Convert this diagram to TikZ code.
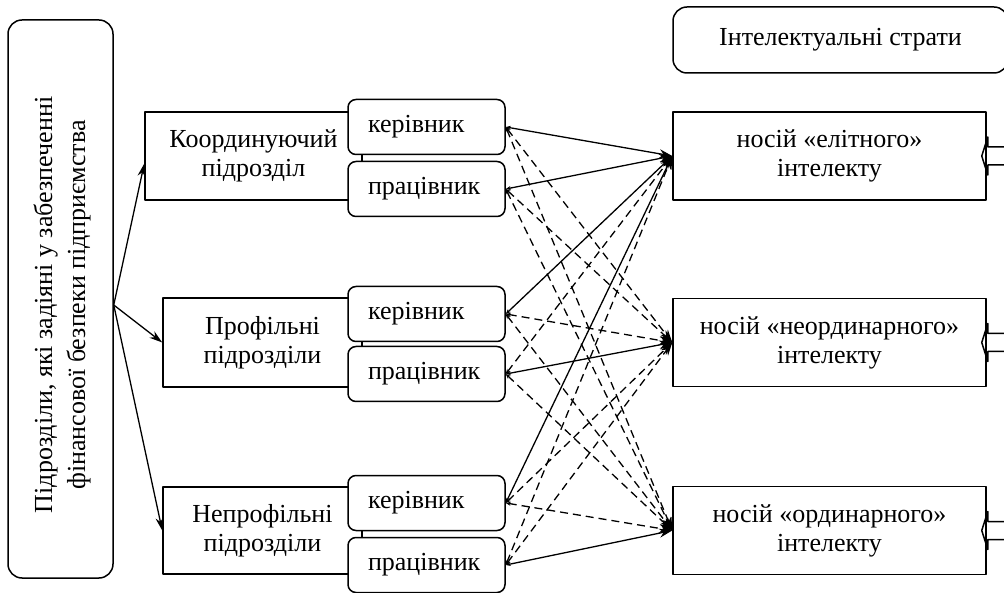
\documentclass[tikz,border=0pt]{standalone}
\usepackage{fontspec}
\setmainfont{Liberation Serif}
\usetikzlibrary{arrows.meta}
\begin{document}
\begin{tikzpicture}[x=1pt,y=-1pt,line join=round,font=\fontsize{26}{29}\selectfont,
	frame/.style={draw,line width=1.5pt,inner sep=0pt,align=center},
	rframe/.style={frame,rounded corners=14pt},
	worker/.style={rframe,fill=white,minimum width=157pt,minimum height=55pt,text width=117pt,inner xsep=20pt,align=left,rounded corners=8pt},
	stratum/.style={frame,minimum width=313pt,minimum height=88pt},
	link/.style={line width=1.3pt,{Stealth[length=5pt,width=4pt]}-{Stealth[length=13pt,width=9pt]}},
	dlink/.style={link,dash pattern=on 8pt off 5pt},
	feed/.style={line width=1.3pt,-{Stealth[length=13pt,width=8pt]}}]
	\useasboundingbox (0,0) rectangle (1004,593);
	\clip (0,0) rectangle (1004,593);
	% left column
	\node[rframe,minimum width=105pt,minimum height=558pt] (L) at (60.5,299) {};
	\node[rotate=90,align=center,font=\fontsize{26}{33}\selectfont] (Ltext) at (62,305) {Підрозділи, які задіяні у забезпеченні\\фінансової безпеки підприємства};
	\coordinate (Lout) at ([yshift=-6pt]L.east);
	% departments
	\node[frame,minimum width=217pt,minimum height=88pt] (K) at (253.5,156) {Координуючий\\підрозділ};
	\node[frame,minimum width=199pt,minimum height=89pt] (P) at (262.5,342.5) {Профільні\\підрозділи};
	\node[frame,minimum width=199pt,minimum height=87pt] (N) at (262.5,530.5) {Непрофільні\\підрозділи};
	\draw[feed] (Lout) -- (K.184);
	\draw[feed] (Lout) -- (P.west);
	\draw[feed] (Lout) -- (N.west);
	% managers and workers
	\node[worker] (k1) at (426.5,127) {керівник};
	\node[worker] (p1) at (426.5,189) {працівник};
	\node[worker] (k2) at (426.5,314) {керівник};
	\node[worker] (p2) at (426.5,374) {працівник};
	\node[worker] (k3) at (426.5,503) {керівник};
	\node[worker] (p3) at (426.5,565) {працівник};
	% strata
	\node[rframe,minimum width=335pt,minimum height=66pt] (H) at (840.5,40) {Інтелектуальні страти};
	\node[stratum] (E) at (829.5,156) {носій «елітного»\\інтелекту};
	\node[stratum] (U) at (829.5,342.5) {носій «неординарного»\\інтелекту};
	\node[stratum] (O) at (829.5,530.5) {носій «ординарного»\\інтелекту};
	\foreach \s in {E,U,O}
		\draw[line width=1.5pt] (\s.east) ++(25,-9) -- ++(-24,0) -- ++(0,-10) -- ++(-6,19) -- ++(6,19) -- ++(0,-10) -- ++(24,0);
	% links
	\foreach \a/\b/\c in {k1/E/link,p1/E/link,k2/E/link,k3/E/link,p2/U/link,p3/O/link,
		k1/U/dlink,k1/O/dlink,p1/U/dlink,p1/O/dlink,k2/U/dlink,k2/O/dlink,
		p2/E/dlink,p2/O/dlink,k3/U/dlink,k3/O/dlink,p3/E/dlink,p3/U/dlink}
		\draw[\c] (\a.east) -- (\b.west);
\end{tikzpicture}
\end{document}
